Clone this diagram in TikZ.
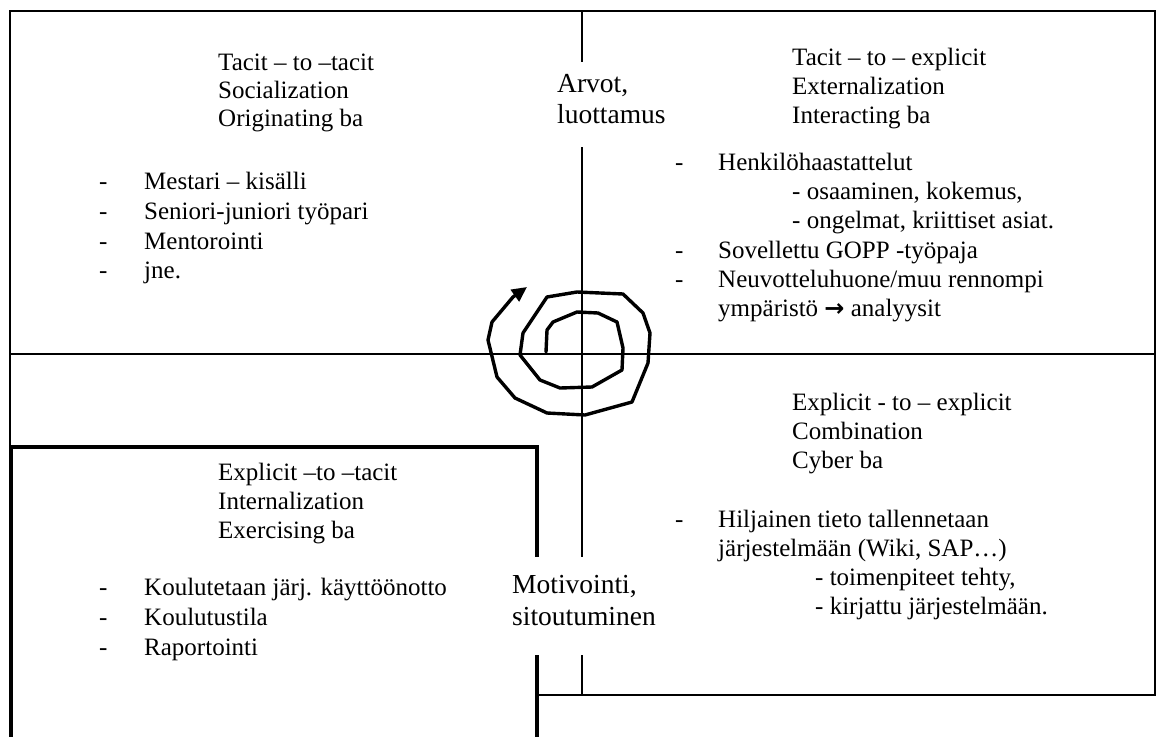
\documentclass[tikz,border=0pt]{standalone}
\usepackage{fontspec}
\setmainfont{Liberation Serif}
\newfontfamily\symfont{DejaVu Sans}
\usetikzlibrary{arrows.meta}

\begin{document}
\begin{tikzpicture}[x=1pt,y=-1pt,
  frame/.style={line width=1.9pt},
  heavy/.style={line width=3.5pt},
  txt/.style={anchor=base west, inner sep=0pt, font=\fontsize{25}{29}\selectfont},
  big/.style={anchor=base west, inner sep=0pt, font=\fontsize{27.5}{31}\selectfont},
  spiralline/.style={line width=3.4pt, line join=round, line cap=round,
    -{Triangle[length=15pt,width=14pt]}}]
\useasboundingbox (0,0) rectangle (1158,736);

% frame corners and line ends
\coordinate (tl) at (10,11);
\coordinate (tr) at (1155,11);
\coordinate (ml) at (10,354);
\coordinate (mr) at (1155,354);
\coordinate (lb) at (10,447);
\coordinate (br) at (1155,695);
\coordinate (bm) at (537,695);
\coordinate (ct) at (582,11);
\coordinate (c1) at (582,62);
\coordinate (c2) at (582,147);
\coordinate (c3) at (582,557);
\coordinate (c4) at (582,655);
\coordinate (cb) at (582,695);
% heavy box of the lower left quarter
\coordinate (h1) at (11,745);
\coordinate (h2) at (11,447);
\coordinate (h3) at (537,447);
\coordinate (h4) at (537,557);
\coordinate (h5) at (537,655);
\coordinate (h6) at (537,745);

% thin frame and axes
\draw[frame] (lb) -- (tl) -- (tr) -- (br) -- (bm);
\draw[frame] (ml) -- (mr);
\draw[frame] (ct) -- (c1);
\draw[frame] (c2) -- (c3);
\draw[frame] (c4) -- (cb);
% heavy box
\draw[heavy, line join=miter] (h1) -- (h2) -- (h3) -- (h4);
\draw[heavy] (h5) -- (h6);

% spiral
\draw[spiralline] (546,352) -- (547,330) -- (553,322) -- (577,312) -- (598,313)
  -- (617,322) -- (623,348) -- (622,370) -- (592,387) -- (560,388) -- (540,380)
  -- (520,355) -- (523,333) -- (547,297) -- (577,292) -- (623,294) -- (643,313)
  -- (650,333) -- (648,363) -- (632,402) -- (585,415) -- (547,413) -- (515,398)
  -- (497,377) -- (488,340) -- (492,322) -- (513,297) -- (527,287);

% centre labels
\node[big] (arv1) at (557,92) {Arvot,};
\node[big] (arv2) at (557,123) {luottamus};
\node[big] (mot1) at (512,593) {Motivointi,};
\node[big] (mot2) at (512,625) {sitoutuminen};

% socialization
\node[txt] (so1) at (218,70) {Tacit – to –tacit};
\node[txt] (so2) at (218,98) {Socialization};
\node[txt] (so3) at (218,126) {Originating ba};
\node[txt] (sd1) at (99,189) {-};
\node[txt] (sd2) at (99,219) {-};
\node[txt] (sd3) at (99,249) {-};
\node[txt] (sd4) at (99,278) {-};
\node[txt] (si1) at (144,189) {Mestari – kisälli};
\node[txt] (si2) at (144,219) {Seniori-juniori työpari};
\node[txt] (si3) at (144,249) {Mentorointi};
\node[txt] (si4) at (144,278) {jne.};

% externalization
\node[txt] (ex1) at (792,65) {Tacit – to – explicit};
\node[txt] (ex2) at (792,94) {Externalization};
\node[txt] (ex3) at (792,123) {Interacting ba};
\node[txt] (ed1) at (675,170) {-};
\node[txt] (ed2) at (675,258) {-};
\node[txt] (ed3) at (675,287) {-};
\node[txt] (ei1) at (718,170) {Henkilöhaastattelut};
\node[txt] (ei2) at (792,199) {- osaaminen, kokemus,};
\node[txt] (ei3) at (792,228) {- ongelmat, kriittiset asiat.};
\node[txt] (ei4) at (718,258) {Sovellettu GOPP -työpaja};
\node[txt] (ei5) at (718,287) {Neuvotteluhuone/muu rennompi};
\node[txt] (ei6) at (718,316) {ympäristö {\symfont\bfseries\fontsize{24}{28}\selectfont →} analyysit};

% combination
\node[txt] (co1) at (792,410) {Explicit - to – explicit};
\node[txt] (co2) at (792,439) {Combination};
\node[txt] (co3) at (792,468) {Cyber ba};
\node[txt] (cd1) at (675,527) {-};
\node[txt] (ci1) at (718,527) {Hiljainen tieto tallennetaan};
\node[txt] (ci2) at (718,556) {järjestelmään (Wiki, SAP…)};
\node[txt] (ci3) at (815,585) {- toimenpiteet tehty,};
\node[txt] (ci4) at (815,614) {- kirjattu järjestelmään.};

% internalization
\node[txt] (in1) at (218,480) {Explicit –to –tacit};
\node[txt] (in2) at (218,509) {Internalization};
\node[txt] (in3) at (218,538) {Exercising ba};
\node[txt] (id1) at (99,595) {-};
\node[txt] (id2) at (99,625) {-};
\node[txt] (id3) at (99,655) {-};
\node[txt] (ii1) at (144,595) {Koulutetaan järj. käyttöönotto};
\node[txt] (ii2) at (144,625) {Koulutustila};
\node[txt] (ii3) at (144,655) {Raportointi};
\end{tikzpicture}
\end{document}
